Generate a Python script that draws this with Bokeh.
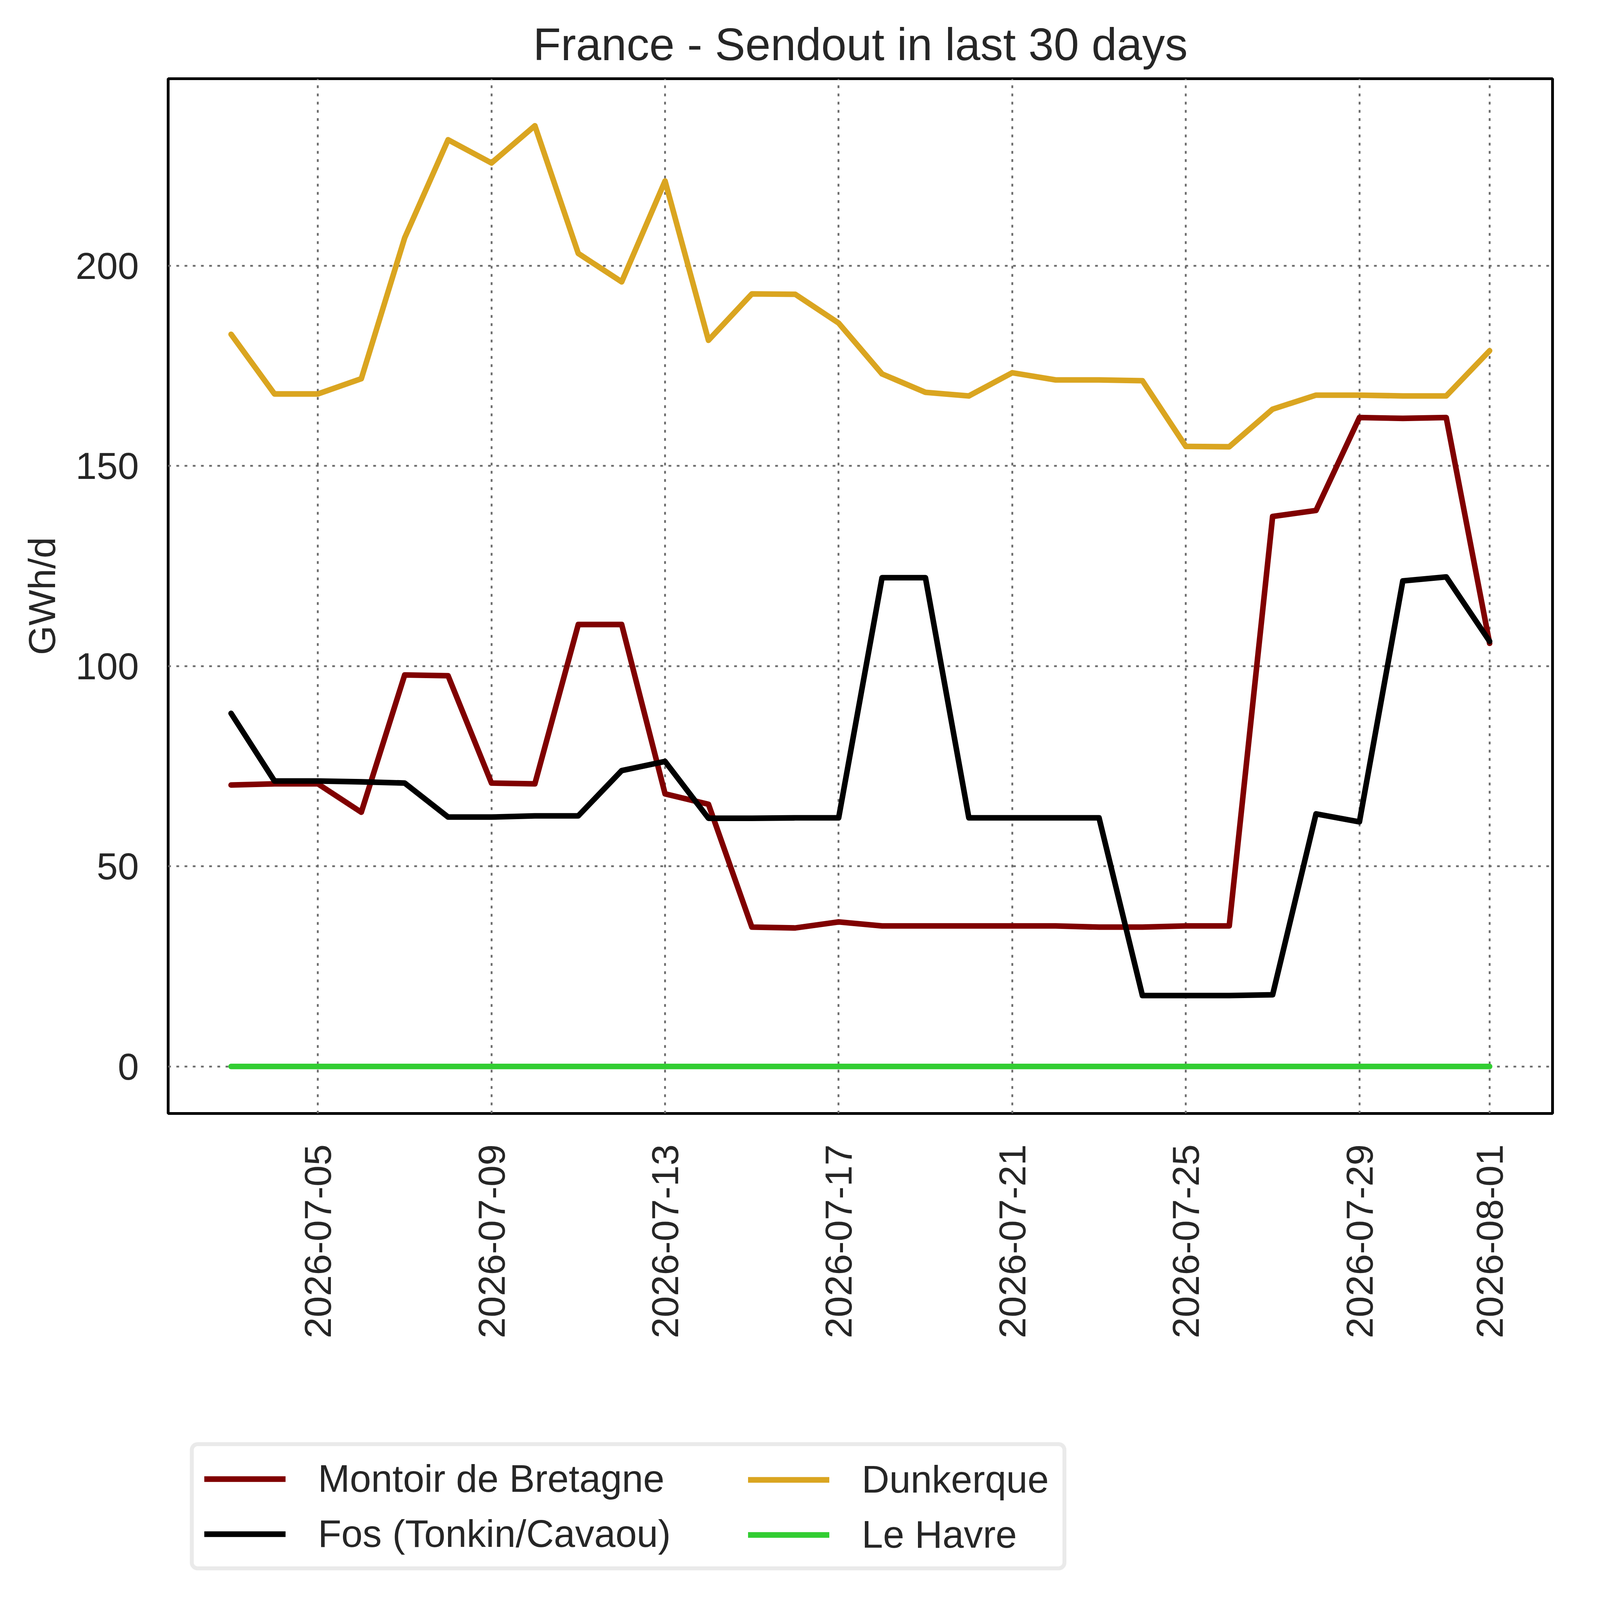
import math
import pandas as pd
from bokeh.plotting import figure
from bokeh.layouts import column
from bokeh.models import (Range1d, FixedTicker, DatetimeTickFormatter, Legend,
                          LegendItem)
from bokeh.embed import file_html
from bokeh.resources import INLINE

# ---------------- data ----------------
start_date = "2026-07-03"
n_days = 30
dates = pd.date_range(start_date, periods=n_days, freq="D")

montoir = [70.3, 70.6, 70.6, 63.5, 97.8, 97.6, 70.8, 70.6, 110.4, 110.4,
           68.1, 65.5, 34.8, 34.6, 36.1, 35.1, 35.1, 35.1, 35.1, 35.1,
           34.8, 34.8, 35.1, 35.1, 137.4, 138.9, 162.1, 161.9, 162.1, 105.7]
fos = [88.2, 71.3, 71.3, 71.1, 70.8, 62.3, 62.3, 62.6, 62.6, 73.9,
       76.2, 62.0, 62.0, 62.1, 62.1, 122.1, 122.1, 62.1, 62.1, 62.1,
       62.1, 17.7, 17.7, 17.7, 17.9, 63.1, 61.1, 121.3, 122.3, 106.2]
dunkerque = [182.9, 168.0, 168.0, 171.8, 207.0, 231.5, 225.7, 235.0, 203.1, 196.0,
             221.2, 181.4, 193.0, 192.9, 185.7, 173.0, 168.4, 167.5, 173.3, 171.5,
             171.5, 171.3, 154.9, 154.8, 164.2, 167.7, 167.7, 167.5, 167.5, 178.8]
le_havre = [0, 0, 0, 0, 0, 0, 0, 0, 0, 0,
            0, 0, 0, 0, 0, 0, 0, 0, 0, 0,
            0, 0, 0, 0, 0, 0, 0, 0, 0, 0]

series_names = ["Montoir de Bretagne", "Fos (Tonkin/Cavaou)", "Dunkerque", "Le Havre"]
series_colors = ["#800000", "#000000", "#DAA520", "#32CD32"]

x_tick_dates = ["2026-07-05", "2026-07-09", "2026-07-13", "2026-07-17",
                "2026-07-21", "2026-07-25", "2026-07-29", "2026-08-01"]
y_ticks = [0, 50, 100, 150, 200]

title_text = "France - Sendout in last 30 days"
y_label = "GWh/d"

# ---------------- layout (page is rendered with a 1.4 pixel ratio) ----------------
K = 1.4


def css(v):
    return v / K


FONT = "Liberation Sans"
TXT = "#262626"
LINE_W = css(20)

x_pad = (dates[-1] - dates[0]) * 0.05
series_values = [montoir, fos, dunkerque, le_havre]
all_vals = montoir + fos + dunkerque + le_havre
ymax = max(all_vals)
ymin = min(all_vals)
y_pad = (ymax - ymin) * 0.05

W = 4040
H_MAIN = 3592
H_LEG = 482

p = figure(width=W, height=H_MAIN, x_axis_type="datetime",
           output_backend="svg", toolbar_location=None,
           x_range=Range1d(dates[0] - x_pad, dates[-1] + x_pad),
           y_range=Range1d(ymin - y_pad, ymax + y_pad),
           min_border_left=430, min_border_right=66,
           min_border_top=201, min_border_bottom=742,
           title=title_text)

p.background_fill_color = "white"
p.border_fill_color = "white"
p.outline_line_color = "black"
p.outline_line_width = css(10)

p.title.text_font = FONT
p.title.text_font_size = "%.1fpx" % css(163)
p.title.text_font_style = "normal"
p.title.text_color = TXT
p.title.align = "center"
p.title.standoff = 46

xa = p.xaxis[0]
ya = p.yaxis[0]
for ax in (xa, ya):
    ax.axis_line_color = None
    ax.major_tick_line_color = None
    ax.minor_tick_line_color = None
    ax.major_tick_out = 0
    ax.major_tick_in = 0
    ax.minor_tick_out = 0
    ax.minor_tick_in = 0
    ax.major_label_text_font = FONT
    ax.major_label_text_font_size = "%.1fpx" % css(136)
    ax.major_label_text_color = TXT

xa.ticker = FixedTicker(ticks=[pd.Timestamp(d).value // 10**6 for d in x_tick_dates])
fmt = "%Y-%m-%d"
xa.formatter = DatetimeTickFormatter(microseconds=fmt, milliseconds=fmt, seconds=fmt,
                                     minsec=fmt, minutes=fmt, hourmin=fmt, hours=fmt,
                                     days=fmt, months=fmt, years=fmt)
xa.major_label_orientation = math.pi / 2
xa.major_label_standoff = round(css(110))

ya.ticker = FixedTicker(ticks=y_ticks)
ya.major_label_standoff = round(css(105))
ya.axis_label = y_label
ya.axis_label_text_font = FONT
ya.axis_label_text_font_size = "%.1fpx" % css(136)
ya.axis_label_text_font_style = "normal"
ya.axis_label_text_color = TXT
ya.axis_label_standoff = round(css(40))

for g in (p.xgrid[0], p.ygrid[0]):
    g.grid_line_color = "#6b6b6b"
    g.grid_line_width = css(6.5)
    g.grid_line_dash = "7 14"

for vals, col in zip(series_values, series_colors):
    p.line(dates, vals, line_color=col, line_width=LINE_W,
           line_cap="round", line_join="round")

# ---------------- legend (below the chart, in its own strip) ----------------
pl = figure(width=W, height=H_LEG, output_backend="svg", toolbar_location=None,
            x_range=Range1d(0, 1), y_range=Range1d(0, 1),
            x_axis_location=None, y_axis_location=None,
            min_border_left=0, min_border_right=0,
            min_border_top=0, min_border_bottom=0)
pl.xgrid.visible = False
pl.ygrid.visible = False
pl.outline_line_color = None
pl.background_fill_color = "white"
pl.border_fill_color = "white"

# legend keys: same series, lying outside this strip's (0..1) view
keys = []
for vals, col in zip(series_values, series_colors):
    keys.append(pl.line(dates, vals, line_color=col, line_width=LINE_W,
                        line_cap="round", line_join="round"))

PAD = 27
SPACING = 28
GLYPH_W = round(css(291))
STANDOFF = round(css(116))
BOX_W = 2224
VY_A = 54
VY_B = 89

common = dict(orientation="vertical", glyph_width=GLYPH_W, glyph_height=100,
              label_standoff=STANDOFF, spacing=SPACING, padding=PAD, margin=0,
              label_text_font=FONT, label_text_font_size="%.1fpx" % css(137),
              label_text_color=TXT)

leg_a = Legend(items=[LegendItem(label=series_names[0], renderers=[keys[0]]),
                      LegendItem(label=series_names[1], renderers=[keys[1]])],
               location=(56, VY_A),
               label_width=BOX_W - 2 * PAD - GLYPH_W - STANDOFF,
               border_line_color="#d6d6d6", border_line_width=css(14),
               background_fill_color="white", background_fill_alpha=1.0,
               **common)
leg_b = Legend(items=[LegendItem(label=series_names[2], renderers=[keys[2]]),
                      LegendItem(label=series_names[3], renderers=[keys[3]])],
               location=(1485, VY_B),
               border_line_color=None, background_fill_alpha=0.0,
               **common)
if "border_radius" in Legend.properties():
    leg_a.border_radius = 20
pl.add_layout(leg_a, "center")
pl.add_layout(leg_b, "center")

layout = column(p, pl, spacing=0)
open("out.html", "w").write(file_html(layout, INLINE))
